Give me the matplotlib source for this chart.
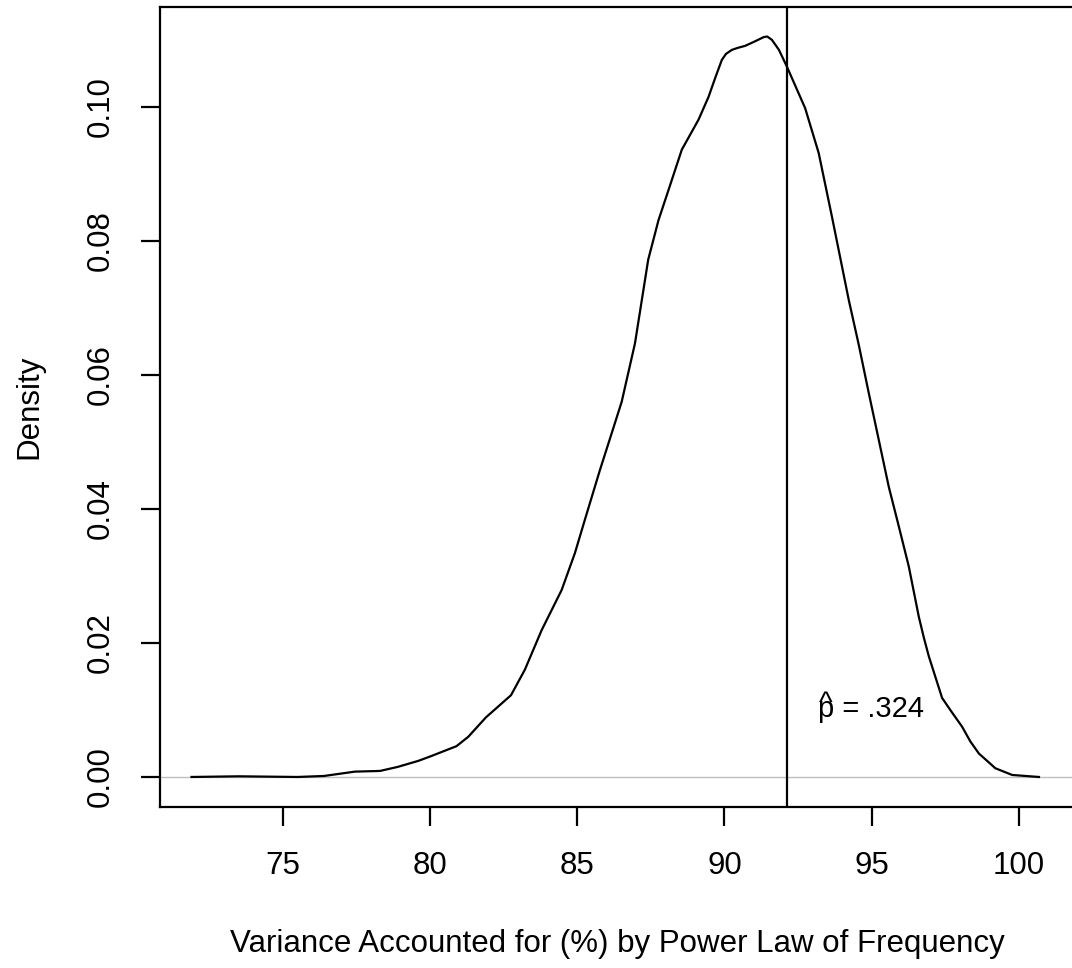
import numpy as np
import matplotlib
matplotlib.use('Agg')
import matplotlib.pyplot as plt

plt.rcParams['font.family'] = ['Liberation Sans', 'DejaVu Sans']

# kernel density estimate
vaf = [71.9, 73.5, 75.5, 76.4, 77.45, 78.3, 78.9, 79.6, 80.03, 80.9,
       81.3, 81.9, 82.75, 83.22, 83.79, 84.47, 84.92, 85.26, 85.77, 86.17,
       86.51, 86.96, 87.41, 87.76, 88.1, 88.55, 89.12, 89.46, 89.7, 89.91,
       90.05, 90.25, 90.45, 90.7, 91.0, 91.33, 91.45, 91.61, 91.85, 92.12,
       92.74, 93.2, 93.65, 94.22, 94.56, 94.9, 95.24, 95.58, 95.92, 96.26,
       96.6, 96.77, 96.94, 97.39, 97.7, 98.07, 98.35, 98.64, 99.2, 99.77,
       100.68]
density = [0.0, 0.0001, 0.0, 0.00015, 0.0008, 0.0009, 0.0015, 0.0024, 0.0031, 0.0046,
           0.006, 0.0089, 0.0122, 0.016, 0.0219, 0.0279, 0.0334, 0.0384, 0.0458, 0.0513,
           0.056, 0.0647, 0.0772, 0.0831, 0.0876, 0.0936, 0.0981, 0.1015, 0.1045, 0.107,
           0.1079, 0.1085, 0.1088, 0.1091, 0.1097, 0.1104, 0.1105, 0.11, 0.1085, 0.106,
           0.0998, 0.0931, 0.0836, 0.0712, 0.0645, 0.0573, 0.0503, 0.0433, 0.0374, 0.0314,
           0.0239, 0.0208, 0.018, 0.0118, 0.0098, 0.0075, 0.0053, 0.0035, 0.0013, 0.0003,
           0.0]

observed = 92.14
p_label = 'p = .324'
label_x, label_y = 93.17, 0.0101

x_ticks = [75, 80, 85, 90, 95, 100]
y_ticks = [0.00, 0.02, 0.04, 0.06, 0.08, 0.10]

fig = plt.figure(figsize=(10.72, 9.68), dpi=100)
ax = fig.add_axes([160 / 1072, 161 / 968, 914 / 1072, 800 / 968])

ax.axhline(0, color='#BEBEBE', linewidth=1.0, zorder=1)
ax.plot(vaf, density, color='black', linewidth=1.6, zorder=2,
        solid_joinstyle='round')
ax.axvline(observed, color='black', linewidth=1.6, zorder=3)

# p-hat: the hat is drawn as its own glyph over the p
ax.text(label_x, label_y, p_label, fontsize=21, ha='left', va='center')
ax.annotate('^', xy=(label_x, label_y), xytext=(5.5, 4), textcoords='offset points',
            fontsize=21, ha='center', va='center')

ax.set_xlim(70.83, 101.87)
ax.set_ylim(-0.00448, 0.1149)
ax.set_xticks(x_ticks)
ax.set_xticklabels([str(t) for t in x_ticks])
ax.set_yticks(y_ticks)
ax.set_yticklabels(['%.2f' % t for t in y_ticks])

ax.spines['right'].set_visible(False)
for s in ['left', 'bottom', 'top']:
    ax.spines[s].set_linewidth(1.6)

ax.tick_params(axis='both', length=14, width=1.6, labelsize=22.5, pad=18)
ax.tick_params(axis='y', labelrotation=90)
for lbl in ax.get_yticklabels():
    lbl.set_va('center')

ax.set_xlabel('Variance Accounted for (%) by Power Law of Frequency', fontsize=22.5, labelpad=34)
ax.set_ylabel('Density', fontsize=22.5, labelpad=30)

fig.savefig('out.png', dpi=100)
